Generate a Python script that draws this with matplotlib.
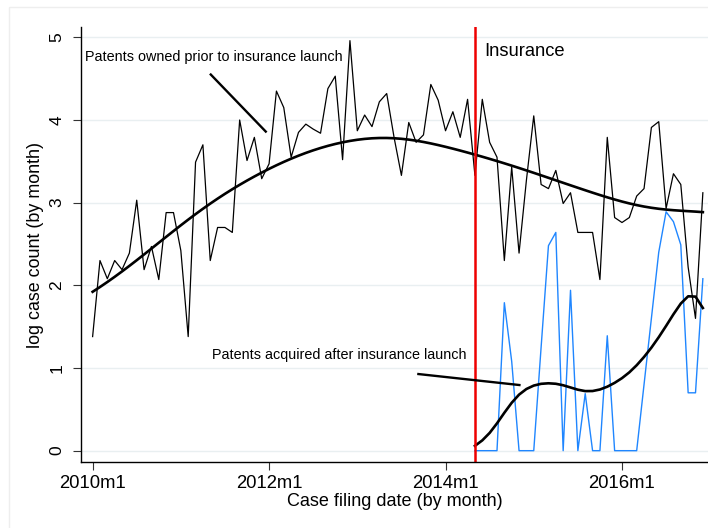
import matplotlib

matplotlib.use("Agg")
import matplotlib.pyplot as plt  # noqa: E402
import numpy as np  # noqa: E402
from matplotlib.patches import Rectangle  # noqa: E402

plt.rcParams["font.family"] = ["Liberation Sans", "DejaVu Sans"]

# months since 2010m1; tick labels every two years
MONTHS_OWNED = list(range(0, 84))          # 2010m1 .. 2016m12
MONTHS_ACQ = list(range(52, 84))           # 2014m5 .. 2016m12
LAUNCH_MONTH = 52                          # 2014m5
TICK_MONTHS = [0, 24, 48, 72]
TICK_LABELS = ["2010m1", "2012m1", "2014m1", "2016m1"]

# log case count per month, patents owned prior to launch
LOG_OWNED = [
    1.38, 2.30, 2.08, 2.30, 2.19, 2.39, 3.03, 2.19, 2.47, 2.07, 2.88, 2.88,
    2.42, 1.38, 3.49, 3.70, 2.30, 2.70, 2.70, 2.64, 4.00, 3.51, 3.79, 3.29,
    3.47, 4.35, 4.15, 3.55, 3.85, 3.95, 3.89, 3.84, 4.38, 4.53, 3.52, 4.96,
    3.87, 4.06, 3.92, 4.22, 4.32, 3.79, 3.33, 3.97, 3.73, 3.82, 4.43, 4.24,
    3.87, 4.10, 3.79, 4.25, 3.33, 4.25, 3.73, 3.55, 2.30, 3.43, 2.39, 3.27,
    4.05, 3.22, 3.17, 3.39, 2.99, 3.12, 2.64, 2.64, 2.64, 2.07, 3.79, 2.82,
    2.76, 2.82, 3.08, 3.17, 3.91, 3.98, 2.93, 3.35, 3.22, 2.22, 1.60, 3.12,
]

# log case count per month, patents acquired after launch
LOG_ACQ = [
    0.00, 0.00, 0.00, 0.00, 1.79, 1.08, 0.00, 0.00, 0.00, 1.25, 2.48, 2.64,
    0.00, 1.94, 0.00, 0.69, 0.00, 0.00, 1.39, 0.00, 0.00, 0.00, 0.00, 0.80,
    1.60, 2.40, 2.89, 2.77, 2.49, 0.70, 0.70, 2.08,
]

INK = "black"
BLUE = "#1f86ff"
RED = "#ee0000"
GRID = "#e9eff1"


def lowess(x, y, bwidth=0.8):
    """Running-line smoother with tricube weights, as Stata's lowess."""
    x = np.asarray(x, float)
    y = np.asarray(y, float)
    n = len(x)
    k = int(np.floor((n * bwidth - 0.5) / 2))
    out = np.empty(n)
    for i in range(n):
        lo, hi = max(0, i - k), min(n - 1, i + k)
        xs, ys = x[lo:hi + 1], y[lo:hi + 1]
        delta = 1.0001 * max(x[hi] - x[i], x[i] - x[lo])
        w = (1 - (np.abs(xs - x[i]) / delta) ** 3) ** 3
        xm = np.sum(w * xs) / w.sum()
        ym = np.sum(w * ys) / w.sum()
        sxx = np.sum(w * (xs - xm) ** 2)
        b = np.sum(w * (xs - xm) * (ys - ym)) / sxx if sxx > 0 else 0.0
        out[i] = ym + b * (x[i] - xm)
    return out


fig = plt.figure(figsize=(7.08, 5.28), dpi=100)
fig.patches.append(Rectangle((9 / 708, -0.01), 1.02, 1 - 7 / 528 + 0.01,
                             transform=fig.transFigure, fill=False,
                             edgecolor="#eeeeee", lw=1.0))
ax = fig.add_axes([81 / 708, 66 / 528, 1 - 81 / 708, (501 - 66) / 528])

for v in range(6):
    ax.axhline(v, color=GRID, lw=1.0, zorder=0)

ax.plot(MONTHS_OWNED, LOG_OWNED, color=INK, lw=0.9)
ax.plot(MONTHS_OWNED, lowess(MONTHS_OWNED, LOG_OWNED), color=INK, lw=1.9)
ax.plot(MONTHS_ACQ, LOG_ACQ, color=BLUE, lw=1.0)
ax.plot(MONTHS_ACQ, lowess(MONTHS_ACQ, LOG_ACQ), color=INK, lw=1.9)
ax.axvline(LAUNCH_MONTH, color=RED, lw=1.8)

ax.text(-1.03, 4.76, "Patents owned prior to insurance launch",
        fontsize=10.4, va="center", ha="left")
ax.plot([16.07, 23.55], [4.55, 3.86], color=INK, lw=1.7)
ax.text(16.2, 1.157, "Patents acquired after insurance launch",
        fontsize=10.4, va="center", ha="left")
ax.plot([44.31, 58.05], [0.927, 0.794], color=INK, lw=1.7)
ax.text(53.3, 4.825, "Insurance", fontsize=13.2, va="center", ha="left")

ax.set_xlim(-1.58, 83.7)
ax.set_ylim(-0.137, 5.125)
ax.set_xticks(TICK_MONTHS, TICK_LABELS)
ax.set_yticks(range(6))
ax.set_yticklabels([str(v) for v in range(6)], rotation=90, va="center")
ax.tick_params(axis="x", labelsize=13.3, length=6, width=0.8,
               color="#333333", pad=3)
ax.tick_params(axis="y", labelsize=12.5, length=6, width=0.8,
               color="#333333", pad=6)
ax.spines[["top", "right"]].set_visible(False)
for s in ("left", "bottom"):
    ax.spines[s].set_linewidth(1.0)
ax.set_xlabel("Case filing date (by month)", fontsize=13, labelpad=1)
ax.set_ylabel("log case count (by month)", fontsize=12.9, labelpad=4)

fig.savefig("out.png", dpi=100)
